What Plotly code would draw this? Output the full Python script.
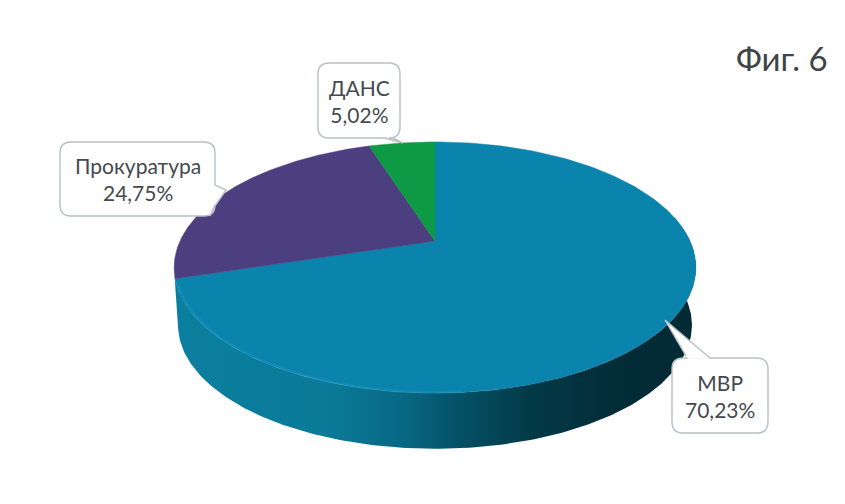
import numpy as np
import plotly.graph_objects as go

labels = ["МВР", "Прокуратура", "ДАНС"]
values = [70.23, 24.75, 5.02]
colors = ["#0A84AD", "#4B3F7F", "#0E9A45"]
title_text = "Фиг. 6"

W, H = 845, 504
PAGE_MARGIN = 8
CX, CY = 435, 241
A, B, K = 120, 255, 0.211
DEPTH = 58
FONT = "Lato, Open Sans, sans-serif"


def project(theta, scale=1.0, dy=0.0):
    u, v = np.sin(theta), -np.cos(theta)
    w = 1 - K * v
    return CX + scale * B * u / w, CY + dy + scale * A * v / w


fig = go.Figure()

# Side wall: runs along the front of the rim, from the right tip to the left tip
t_wall = np.radians(np.linspace(78, 360 * values[0] / sum(values) + 3, 240))
xt, yt = project(t_wall)
xb, yb = project(t_wall, 0.985, DEPTH)
fig.add_trace(go.Scatter(
    x=np.r_[xt, xb[::-1]], y=np.r_[yt, yb[::-1]], mode="lines",
    line=dict(width=0), fill="toself", hoverinfo="skip",
    fillgradient=dict(type="horizontal", colorscale=[
        [0.00, "#0B7F9F"], [0.30, "#0A7A98"], [0.44, "#086883"],
        [0.54, "#045268"], [0.68, "#033A48"], [0.84, "#022C38"], [1.00, "#022A33"],
    ]),
))

# Top surface wedges, clockwise from twelve o'clock
start = 0.0
total = sum(values)
for lab, val, col in zip(labels, values, colors):
    end = start + 2 * np.pi * val / total
    t = np.linspace(start, end, 200)
    x, y = project(t)
    fig.add_trace(go.Scatter(
        x=np.r_[CX, x, CX], y=np.r_[CY, y, CY], mode="lines",
        line=dict(width=0.5, color=col), fill="toself", fillcolor=col,
        name=lab, hoverinfo="skip",
    ))
    start = end

# Soft highlight along the lower-left front rim
t_rim = np.radians(np.linspace(175, 250, 80))
xr, yr = project(t_rim, 0.995)
fig.add_trace(go.Scatter(x=xr, y=yr, mode="lines", hoverinfo="skip",
                         line=dict(color="rgba(40,160,200,0.25)", width=3)))


def callout(x0, y0, x1, y1, r, ptr):
    return (f"M{x0+r},{y0} L{x1-r},{y0} Q{x1},{y0} {x1},{y0+r} "
            + ptr.get("right", "")
            + f"L{x1},{y1-r} Q{x1},{y1} {x1-r},{y1} "
            + ptr.get("bottom", "")
            + f"L{x0+r},{y1} Q{x0},{y1} {x0},{y1-r} L{x0},{y0+r} Q{x0},{y0} {x0+r},{y0} Z")


boxes = [
    (672, 358, 768, 433, dict()),
    (60, 142, 215, 216, dict(right="L215,185 L226,190 L215,206 L210,216 ")),
    (318, 63, 400, 138, dict(bottom="L393,138 L403,143 L385,138 ")),
]
shapes = []
for x0, y0, x1, y1, ptr in boxes:
    shapes.append(dict(type="path", path=callout(x0, y0, x1, y1, 11, ptr),
                       xref="x", yref="y", fillcolor="white",
                       line=dict(color="#B9C0C5", width=1.4)))
# pointer of the МВР callout rises from its top edge
shapes.append(dict(type="path", path="M710,358.8 L665,320 L688,358.8 Z", xref="x", yref="y",
                   fillcolor="white", line=dict(width=0)))
shapes.append(dict(type="path", path="M710,358 L665,320 L686,356", xref="x", yref="y",
                   line=dict(color="#B9C0C5", width=1.4)))

annotations = []
for (x0, y0, x1, y1, _), lab, val in zip(boxes, labels, values):
    txt = f"{lab}<br>{val:.2f}%".replace(".", ",")
    annotations.append(dict(x=(x0 + x1) / 2, y=(y0 + y1) / 2, text=txt, showarrow=False,
                            xref="x", yref="y", align="center",
                            font=dict(family=FONT, size=21, color="#454A4E")))
annotations.append(dict(x=782, y=58, text=title_text, showarrow=False, xref="x", yref="y",
                        font=dict(family=FONT, size=33, color="#3F4448")))

fig.update_layout(
    width=W - PAGE_MARGIN, height=H - PAGE_MARGIN, margin=dict(l=0, r=0, t=0, b=0), showlegend=False,
    paper_bgcolor="white", plot_bgcolor="white",
    xaxis=dict(range=[PAGE_MARGIN, W], visible=False, fixedrange=True),
    yaxis=dict(range=[H, PAGE_MARGIN], visible=False, fixedrange=True),
    shapes=shapes, annotations=annotations,
)
fig.write_html("out.html", config=dict(displayModeBar=False))
